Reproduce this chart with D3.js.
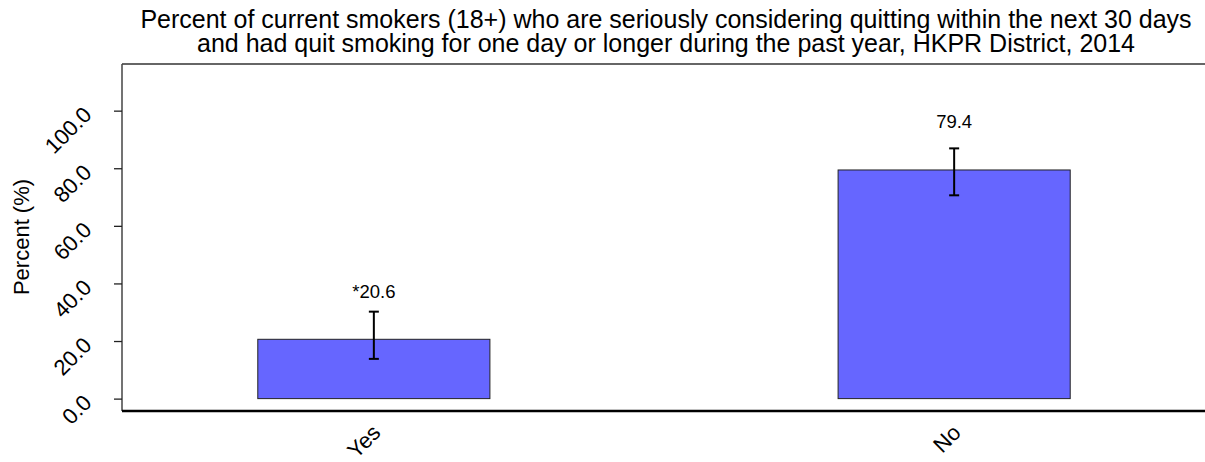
<!DOCTYPE html>
<html>
<head>
<meta charset="utf-8">
<script src="https://cdn.jsdelivr.net/npm/d3@7"></script>
<style>
  body { margin: 0; background: #fff; }
  text { font-family: Arial, "Liberation Sans", sans-serif; fill: #000; }
</style>
</head>
<body>
<script>
const w = 1205;
const h = 462;

// data
const categories = ["Yes", "No"];
const values = [20.6, 79.4];
const lower = [13.8, 70.6];
const upper = [30.2, 86.9];
const valueLabels = ["*20.6", "79.4"];
const yTicks = [0, 20, 40, 60, 80, 100];
const titleLines = [
  "Percent of current smokers (18+) who are seriously considering quitting within the next 30 days",
  "and had quit smoking for one day or longer during the past year, HKPR District, 2014"
];

const plotLeft = 122, plotTop = 64, plotBottom = 411;

let svg = d3.select("body")
  .append("svg")
    .attr("width", w)
    .attr("height", h);

let x = d3.scaleBand()
  .domain(categories)
  .range([plotLeft, 1206])
  .paddingInner(0.6)
  .paddingOuter(0.234);

let y = d3.scaleLinear()
  .domain([-4.3, 116.2])
  .range([plotBottom, plotTop]);

// title
svg.selectAll(".title")
  .data(titleLines)
  .enter()
  .append("text")
    .attr("class", "title")
    .attr("x", 666)
    .attr("y", (d, i) => 28 + i * 24)
    .attr("text-anchor", "middle")
    .style("font-size", "25px")
    .text(d => d);

// frame
svg.append("line")
  .attr("x1", plotLeft).attr("x2", w + 5)
  .attr("y1", plotTop).attr("y2", plotTop)
  .attr("stroke", "#333").attr("stroke-width", 1.3);
svg.append("line")
  .attr("x1", plotLeft).attr("x2", plotLeft)
  .attr("y1", plotTop).attr("y2", plotBottom)
  .attr("stroke", "#444").attr("stroke-width", 1.5);

// bars
svg.selectAll("rect.bar")
  .data(values)
  .enter()
  .append("rect")
    .attr("class", "bar")
    .attr("x", (d, i) => x(categories[i]))
    .attr("width", x.bandwidth())
    .attr("y", d => y(d))
    .attr("height", d => y(0) - y(d))
    .attr("fill", "#6666ff")
    .attr("stroke", "#222")
    .attr("stroke-width", 1);

// error bars
const cx = i => x(categories[i]) + x.bandwidth() / 2;
let eb = svg.selectAll("g.err")
  .data(values)
  .enter()
  .append("g")
    .attr("class", "err")
    .attr("stroke", "#000")
    .attr("stroke-width", 2);
eb.append("line")
  .attr("x1", (d, i) => cx(i)).attr("x2", (d, i) => cx(i))
  .attr("y1", (d, i) => y(lower[i])).attr("y2", (d, i) => y(upper[i]));
eb.append("line")
  .attr("x1", (d, i) => cx(i) - 5).attr("x2", (d, i) => cx(i) + 5)
  .attr("y1", (d, i) => y(upper[i])).attr("y2", (d, i) => y(upper[i]));
eb.append("line")
  .attr("x1", (d, i) => cx(i) - 5).attr("x2", (d, i) => cx(i) + 5)
  .attr("y1", (d, i) => y(lower[i])).attr("y2", (d, i) => y(lower[i]));

// value labels
svg.selectAll("text.val")
  .data(values)
  .enter()
  .append("text")
    .attr("class", "val")
    .attr("x", (d, i) => cx(i))
    .attr("y", d => y(d + 14.5))
    .attr("text-anchor", "middle")
    .style("font-size", "18.5px")
    .text((d, i) => valueLabels[i]);

// y axis
let yAxis = svg.append("g")
  .attr("transform", "translate(" + plotLeft + ",0)")
  .call(d3.axisLeft(y).tickValues(yTicks).tickSize(8).tickFormat(d3.format(".1f")));
yAxis.select(".domain").remove();
yAxis.selectAll(".tick line").attr("stroke", "#222").attr("stroke-width", 1.3);
yAxis.selectAll(".tick text")
  .attr("x", null).attr("dy", null)
  .attr("transform", "translate(-29,5) rotate(-45)")
  .attr("text-anchor", "end")
  .style("font-size", "22px");

// x axis baseline
svg.append("line")
  .attr("x1", plotLeft).attr("x2", w + 5)
  .attr("y1", plotBottom).attr("y2", plotBottom)
  .attr("stroke", "#000").attr("stroke-width", 2.5);

// x labels
svg.selectAll("text.xlab")
  .data(categories)
  .enter()
  .append("text")
    .attr("class", "xlab")
    .attr("text-anchor", "end")
    .attr("transform", d => "translate(" + (x(d) + x.bandwidth() / 2 + 8) + ",434) rotate(-45)")
    .style("font-size", "22px")
    .text(d => d);

// y label
svg.append("text")
  .attr("transform", "translate(29,237) rotate(-90)")
  .attr("text-anchor", "middle")
  .style("font-size", "22px")
  .text("Percent (%)");
</script>
</body>
</html>
